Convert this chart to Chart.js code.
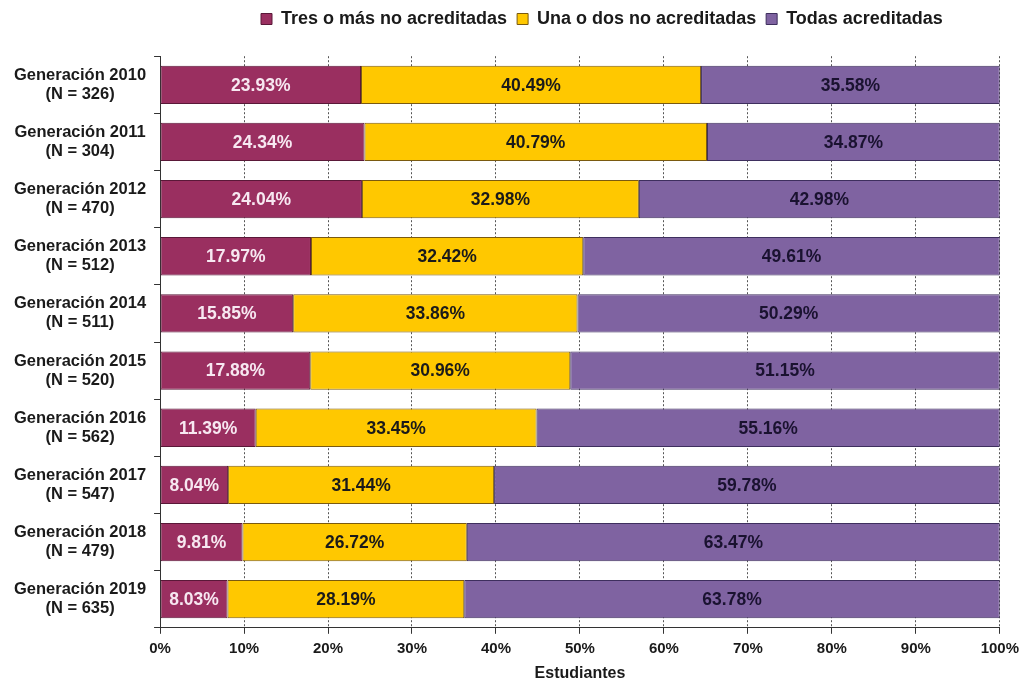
<!DOCTYPE html>
<html>
<head>
<meta charset="utf-8">
<script src="https://cdn.jsdelivr.net/npm/chart.js@4.4.1/dist/chart.umd.min.js"></script>
<style>
html,body{margin:0;padding:0;background:#fff;}
#wrap{width:1025px;height:683px;position:relative;}
</style>
</head>
<body>
<div id="wrap"><canvas id="c" width="1025" height="683"></canvas></div>
<script>
const generaciones = ["2010","2011","2012","2013","2014","2015","2016","2017","2018","2019"];
const tamanos = [326,304,470,512,511,520,562,547,479,635];
const tresOMas = [23.93,24.34,24.04,17.97,15.85,17.88,11.39,8.04,9.81,8.03];
const unaODos = [40.49,40.79,32.98,32.42,33.86,30.96,33.45,31.44,26.72,28.19];
const todas = [35.58,34.87,42.98,49.61,50.29,51.15,55.16,59.78,63.47,63.78];
const seriesNames = ["Tres o más no acreditadas","Una o dos no acreditadas","Todas acreditadas"];
const xTicks = [0,10,20,30,40,50,60,70,80,90,100];

const labels = generaciones.map((g,i)=>["Generación " + g, "(N = " + tamanos[i] + ")"]);
const rawSeries = [tresOMas, unaODos, todas];
// 100% stacked: each row is scaled to its own total, labels keep the raw values
const rowTotals = tresOMas.map((v,i)=> v + unaODos[i] + todas[i]);
const share = arr => arr.map((v,i)=> v / rowTotals[i] * 100);

const FONT = "'Liberation Sans', Arial, sans-serif";
const labelColors = ["#f7e8f1", "#1a1a1a", "#1a1230"];

const barLabels = {
  id: 'barLabels',
  afterDatasetsDraw(chart) {
    const ctx = chart.ctx;
    ctx.save();
    ctx.font = "bold 17.5px " + FONT;
    ctx.textAlign = 'center';
    ctx.textBaseline = 'middle';
    chart.data.datasets.forEach((ds, di) => {
      const meta = chart.getDatasetMeta(di);
      ctx.fillStyle = labelColors[di];
      meta.data.forEach((el, i) => {
        const v = rawSeries[di][i];
        const cx = (el.x + el.base) / 2;
        ctx.fillText(v.toFixed(2) + '%', cx, el.y + 1);
      });
    });
    ctx.restore();
  }
};

const shiftLegend = {
  id: 'shiftLegend',
  afterLayout(chart) {
    if (chart.legend) { chart.legend.left += 22; chart.legend.right += 22; }
  }
};

new Chart(document.getElementById('c'), {
  type: 'bar',
  data: {
    labels: labels,
    datasets: [
      {label: seriesNames[0], data: share(tresOMas), backgroundColor: '#9a2f60', borderColor: '#5a1838', borderWidth: 1, borderSkipped: false},
      {label: seriesNames[1], data: share(unaODos), backgroundColor: '#ffc800', borderColor: '#7a5a10', borderWidth: 1, borderSkipped: false},
      {label: seriesNames[2], data: share(todas), backgroundColor: '#7f63a1', borderColor: '#3e2f5e', borderWidth: 1, borderSkipped: false}
    ]
  },
  options: {
    indexAxis: 'y',
    responsive: false,
    animation: false,
    devicePixelRatio: 1,
    layout: {padding: {left: 6, right: 4, top: 0, bottom: 0}},
    datasets: {bar: {categoryPercentage: 1, barPercentage: 0.67}},
    scales: {
      x: {
        stacked: true,
        min: 0, max: 100,
        afterBuildTicks(scale){ scale.ticks = xTicks.map(v=>({value:v})); },
        ticks: {
          callback: v => v + '%',
          color: '#1a1a1a',
          font: {family: FONT, size: 15, weight: 'bold'},
          padding: 6,
          maxRotation: 0
        },
        grid: {color: '#555', lineWidth: 1, drawTicks: true, tickLength: 6, tickColor: '#333', tickBorderDash: []},
        border: {display: true, color: '#333', width: 1, dash: [2,2]},
        title: {display: true, text: 'Estudiantes', color: '#1a1a1a', font: {family: FONT, size: 16, weight: 'bold'}, padding: {top: 0, bottom: 0}}
      },
      y: {
        stacked: true,
        ticks: {
          color: '#1a1a1a',
          font: {family: FONT, size: 16.5, weight: 'bold', lineHeight: 1.15},
          crossAlign: 'center',
          padding: 8
        },
        grid: {drawOnChartArea: false, drawTicks: true, tickLength: 6, color: '#333', offset: true},
        border: {display: true, color: '#333', width: 1}
      }
    },
    plugins: {
      title: {display: true, text: '', font: {size: 1}, padding: {top: 0, bottom: 17}},
      legend: {
        position: 'top',
        fullSize: false,
        weight: 3000,
        labels: {
          boxWidth: 11, boxHeight: 11,
          color: '#1a1a1a',
          font: {family: FONT, size: 18, weight: 'bold'},
          padding: 10
        }
      },
      tooltip: {enabled: false}
    }
  },
  plugins: [barLabels, shiftLegend]
});
</script>
</body>
</html>
